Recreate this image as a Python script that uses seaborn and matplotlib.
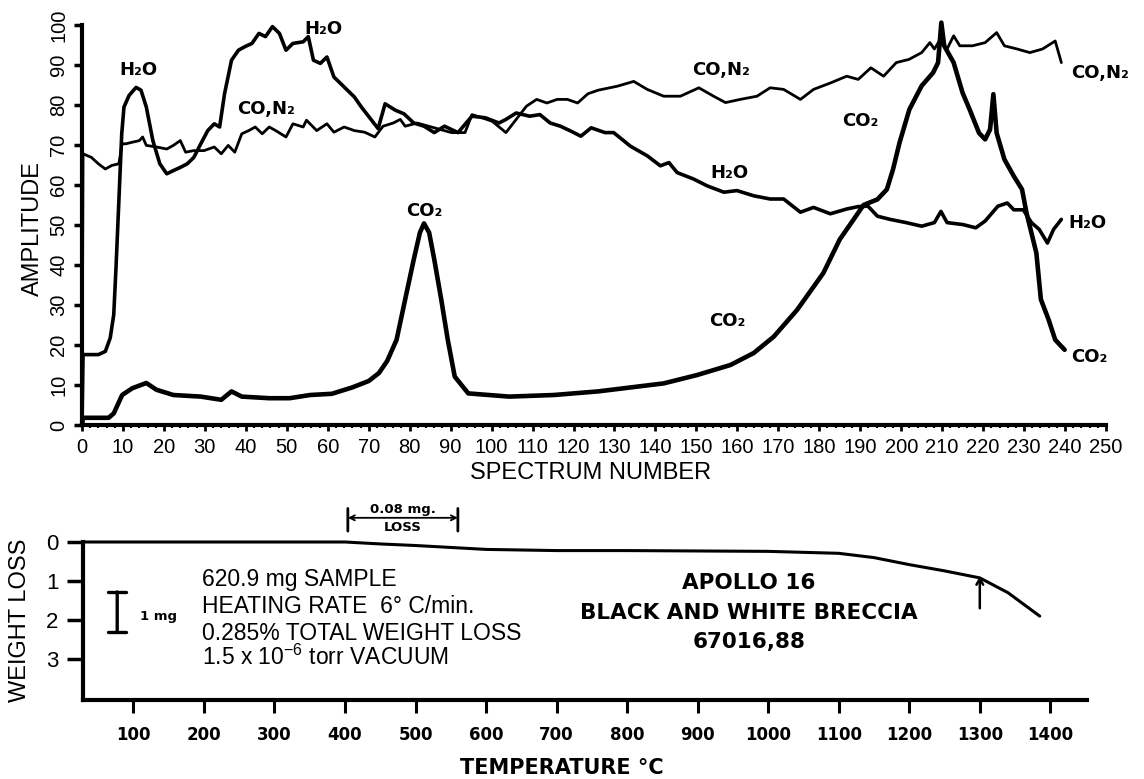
import numpy as np
import pandas as pd
import seaborn as sns
import matplotlib
matplotlib.use("Agg")
import matplotlib.pyplot as plt
from matplotlib.ticker import MultipleLocator

# ---------------- data ----------------
co2_x = [0, 0.25, 6.5, 7.75, 9.8, 12.3, 15.7, 18.2, 22.3, 29, 34, 36.5, 39, 45.7, 50.7, 55.7,
         61, 66, 70, 72.5, 74.5, 76.8, 78.9, 81, 82.5, 83.5, 84.75, 86, 87.7, 89.3, 91, 94.3,
         104.3, 115.2, 126, 142, 150.2, 158.3, 164, 168.9, 174.6, 181, 185, 188.4, 190.8,
         194.2, 196.5, 198, 199.6, 202, 205, 207.8, 209, 209.8, 210.5, 212.8, 215, 216.7,
         219, 220.5, 221.7, 222.5, 223.3, 225.2, 227.5, 229.5, 230.6, 231.8, 233, 234.1,
         236, 237.6, 239.9]
co2_y = [0, 1.8, 1.8, 2.9, 7.5, 9.2, 10.5, 8.8, 7.5, 7.1, 6.3, 8.4, 7.1, 6.7, 6.7, 7.5,
         7.8, 9.4, 11, 13, 16, 21.3, 31.4, 41.4, 48.1, 50.4, 48.1, 41.4, 31.4, 21.3, 12.1, 7.9,
         7.1, 7.5, 8.4, 10.4, 12.5, 15, 18, 22.1, 28.8, 38, 46.4, 51.4, 55,
         56.4, 58.9, 63.9, 70.6, 78.9, 84.8, 88.1, 90.6, 100.6, 94.8, 90.6, 83, 78.9,
         73, 71.4, 73.9, 82.7, 73, 66.4, 62.2, 58.9, 53, 48, 43, 31.4,
         26.3, 21.3, 18.8]

h2o_x = [0, 0.25, 4, 5.7, 6.9, 7.75, 8.3, 9, 9.7, 10.25, 11.5, 13.2, 14.4, 15.7, 17.3, 19,
         20.7, 22.3, 24, 25.7, 27.3, 29, 30.7, 32.3, 33.6, 34.8, 36.5, 38.2, 39.8, 41.5, 43.2,
         44.8, 46.5, 48.2, 49.8, 51.5, 54, 55.25, 56.5, 58.2, 59.8, 61.5, 64, 66.5, 68.2, 70.7,
         72.3, 74, 76.5, 78.6, 81, 83.5, 86, 88.5, 91.8, 95.2, 98.5, 101.8, 103.5, 106, 109.3,
         111.8, 114.3, 116.8, 119.3, 121.8, 124.3, 127.7, 129.8, 133.9, 138, 141.2, 143.3,
         145.3, 149.3, 152.6, 156.7, 159.9, 164, 168, 171.3, 175.4, 178.6, 182.7, 186.7,
         189.5, 191.9, 194.2, 197.3, 201.2, 205, 208.1, 209.7, 211.2, 215.1, 218.2, 220.5,
         223.6, 225.9, 227.5, 229.8, 231.8, 233.7, 235.7, 237.2, 239.1]
h2o_y = [0, 17.6, 17.6, 18.4, 21.8, 27.6, 39.3, 56, 72.8, 79.5, 82.4, 84.4, 83.7, 79.5, 71.1, 65.3,
         62.8, 63.6, 64.4, 65.3, 66.9, 70.3, 73.6, 75.3, 74.5, 82.8, 91.2, 93.7, 94.6, 95.4, 97.9,
         97.1, 99.6, 97.9, 93.7, 95.4, 95.8, 97.1, 91.2, 90.4, 92, 87, 84.5, 82, 79.5, 76.2,
         74.1, 80.3, 78.7, 77.8, 75.5, 74.7, 73.1, 74.7, 73.1, 77.2, 76.8, 75.5, 76.4, 78, 77.2,
         77.6, 75.5, 74.7, 73.5, 72.2, 74.3, 73.1, 73.1, 69.7, 67.3, 64.8, 65.6,
         63.1, 61.5, 59.8, 58.2, 58.6, 57.3, 56.5, 56.5, 53.2, 54.4, 52.8, 54,
         54.6, 54.7, 52.2, 51.4, 50.6, 49.7, 50.6, 53.4, 50.6, 50.1, 49.3, 51,
         54.7, 55.5, 53.8, 53.8, 50.6, 48.9, 45.5, 48.9, 51.4]

con2_x = [0, 0.25, 2.3, 4, 5.7, 7.3, 9, 9.8, 10.7, 12.3, 14, 14.8, 15.7, 18.2, 20.7, 22.3, 24,
          25.3, 27.3, 29.8, 32.3, 34, 35.7, 37.3, 39, 40.7, 42.3, 44, 45.7, 47.3, 49.8, 51.5, 54,
          54.8, 57.3, 59.8, 61.5, 64, 66.5, 69, 71.5, 73.5, 76, 77.7, 78.9, 81.8, 86, 90.2, 93.5,
          95.2, 97.7, 100.2, 103.5, 106, 108.5, 111, 113.5, 116, 118.5, 121, 123.5, 126, 130.7,
          134.7, 138, 142, 146.1, 150.6, 154.2, 157.1, 160.7, 164.8, 168, 171.3, 175.4, 178.6,
          182.7, 186.7, 189.5, 192.6, 195.7, 198.8, 201.9, 205, 207, 208.1, 209.3, 211.2, 212.8,
          214.3, 217.4, 220.5, 223.3, 225.2, 228.3, 231.4, 234.5, 237.6, 239.1]
con2_y = [0, 67.8, 66.9, 65.3, 64, 64.9, 65.3, 70.3, 70.3, 70.7, 71.1, 72, 69.9, 69.5, 69, 69.9, 71.1,
          68.2, 68.6, 68.6, 69.5, 67.8, 69.9, 68.2, 72.8, 73.6, 74.5, 72.8, 74.5, 73.6, 72, 75.3, 74.5,
          76.2, 73.6, 75.3, 73.2, 74.5, 73.6, 73.2, 72, 74.7, 75.5, 76.4, 74.7, 75.5, 74.3, 73.1, 73.1,
          77.6, 76.8, 75.9, 73.1, 76.4, 79.7, 81.4, 80.5, 81.4, 81.4, 80.5, 82.8, 83.7, 84.7,
          85.9, 83.9, 82.2, 82.2, 84.3, 82.2, 80.6, 81.4, 82.2, 84.3, 83.9, 81.4, 83.9,
          85.5, 87.2, 86.4, 89.3, 87.2, 90.6, 91.4, 93.1, 95.6, 94, 96, 94, 97.3,
          94.8, 94.8, 95.6, 98.1, 94.8, 94, 93.1, 94, 96, 90.6]

temp_c = [28.5, 100, 200, 300, 400, 450, 500, 560, 600, 700, 800, 900, 1000, 1100, 1150,
          1200, 1250, 1300, 1340, 1385]
weight_loss = [0, 0, 0, 0, 0, 0.05, 0.09, 0.15, 0.19, 0.22, 0.22, 0.23, 0.24, 0.29, 0.4,
               0.58, 0.74, 0.92, 1.3, 1.9]

spec_ticks = list(range(0, 251, 10))
amp_ticks = list(range(0, 101, 10))
temp_ticks = list(range(100, 1401, 100))
wl_ticks = [0, 1, 2, 3]

info_lines = ["620.9 mg SAMPLE", "HEATING RATE  6\u00b0 C/min.",
              "0.285% TOTAL WEIGHT LOSS", r"1.5 x 10$^{-6}$ torr VACUUM"]
title_lines = ["APOLLO 16", "BLACK AND WHITE BRECCIA", "67016,88"]

# ---------------- style ----------------
sns.set_theme(style="white")
plt.rcParams["font.family"] = ["Liberation Sans", "DejaVu Sans"]
plt.rcParams["mathtext.fontset"] = "custom"
plt.rcParams["mathtext.rm"] = "Liberation Sans"
plt.rcParams["mathtext.it"] = "Liberation Sans:italic"
plt.rcParams["mathtext.bf"] = "Liberation Sans:bold"
for k in ["text.color", "axes.labelcolor", "xtick.color", "ytick.color", "axes.edgecolor"]:
    plt.rcParams[k] = "black"

NARROW = ["Liberation Sans Narrow", "Liberation Sans"]
BOLD = ["DejaVu Sans"]

W, H = 1144, 779
fig = plt.figure(figsize=(W / 100, H / 100), dpi=100)
ax1 = fig.add_axes([82 / W, 1 - 425 / H, (1106 - 82) / W, 400 / H])
ax2 = fig.add_axes([83 / W, 1 - 700 / H, (1087 - 83) / W, 158 / H])

# ---------------- top panel ----------------
sns.lineplot(x=con2_x, y=con2_y, ax=ax1, color="black", lw=2.0, estimator=None, sort=False)
sns.lineplot(x=h2o_x, y=h2o_y, ax=ax1, color="black", lw=2.6, estimator=None, sort=False)
sns.lineplot(x=co2_x, y=co2_y, ax=ax1, color="black", lw=3.3, estimator=None, sort=False)
for ln in ax1.lines:
    ln.set_clip_on(False)
    ln.set_solid_joinstyle("round")

ax1.set_xlim(0, 250)
ax1.set_ylim(0, 100)
for s in ["top", "right"]:
    ax1.spines[s].set_visible(False)
for s in ["left", "bottom"]:
    ax1.spines[s].set_linewidth(3)
ax1.set_xticks(spec_ticks, labels=[str(t) for t in spec_ticks], fontfamily=NARROW, fontsize=14.5)
ax1.set_yticks(amp_ticks, labels=[str(t) for t in amp_ticks], fontfamily=NARROW, fontsize=14.5)
ax1.xaxis.set_minor_locator(MultipleLocator(2))
ax1.tick_params(axis="x", which="major", bottom=True, direction="out", length=4.5, width=2, pad=5)
ax1.tick_params(axis="x", which="minor", bottom=True, direction="out", length=2.5, width=1.5)
ax1.tick_params(axis="y", which="major", left=True, direction="out", length=6, width=2.5, pad=4,
                labelrotation=90)
for tk in ax1.yaxis.get_major_ticks():
    tk.label1.set_rotation(90)
    tk.label1.set_verticalalignment("center")
    tk.label1.set_horizontalalignment("right")
ax1.set_xlabel("")
ax1.set_ylabel("")

fig.text(591 / W, 1 - 473 / H, "SPECTRUM NUMBER", ha="center", va="center", fontsize=17)
fig.text(33 / W, 1 - 228 / H, "AMPLITUDE", ha="center", va="center", fontsize=17, rotation=90)

lab_kw = dict(fontfamily=BOLD, fontweight="bold", fontsize=13, ha="center", va="center",
              clip_on=False)
ax1.text(13.8, 88.8, "H\u2082O", **lab_kw)
ax1.text(59, 99, "H\u2082O", **lab_kw)
ax1.text(45, 79, "CO,N\u2082", **lab_kw)
ax1.text(83.5, 53.5, "CO\u2082", **lab_kw)
ax1.text(156, 88.8, "CO,N\u2082", **lab_kw)
ax1.text(158, 63, "H\u2082O", **lab_kw)
ax1.text(157.5, 26, "CO\u2082", **lab_kw)
ax1.text(190, 76, "CO\u2082", **lab_kw)
ax1.text(248.5, 88, "CO,N\u2082", **lab_kw)
ax1.text(245.5, 50.5, "H\u2082O", **lab_kw)
ax1.text(246, 17, "CO\u2082", **lab_kw)

# ---------------- bottom panel ----------------
sns.lineplot(x=temp_c, y=weight_loss, ax=ax2, color="black", lw=2.2, estimator=None, sort=False)
for ln in ax2.lines:
    ln.set_clip_on(False)
    ln.set_solid_joinstyle("round")

ax2.set_xlim(28.5, 1452)
ax2.set_ylim(4.05, 0)
for s in ["top", "right"]:
    ax2.spines[s].set_visible(False)
for s in ["left", "bottom"]:
    ax2.spines[s].set_linewidth(3)
ax2.set_xticks(temp_ticks, labels=[str(t) for t in temp_ticks], fontfamily=BOLD,
               fontweight="bold", fontsize=12)
ax2.set_yticks(wl_ticks, labels=[str(t) for t in wl_ticks], fontfamily=NARROW, fontsize=16)
ax2.tick_params(axis="x", which="major", bottom=True, direction="out", length=9.5, width=2.2, pad=9)
ax2.tick_params(axis="y", which="major", left=True, direction="out", length=11.5, width=2.5, pad=6)
ax2.set_xlabel("")
ax2.set_ylabel("")

fig.text(562 / W, 1 - 768 / H, "TEMPERATURE \u00b0C", ha="center", va="center",
         fontfamily=BOLD, fontweight="bold", fontsize=15)
fig.text(20 / W, 1 - 620 / H, "WEIGHT LOSS", ha="center", va="center", fontsize=17, rotation=90)

# info text block
for i, line in enumerate(info_lines):
    ax2.text(197, [1.13, 1.82, 2.51, 3.15][i], line, ha="left", va="baseline", fontsize=16.5)

# sample title
for i, line in enumerate(title_lines):
    ax2.text(973, [1.05, 1.82, 2.56][i], line, ha="center", va="center",
             fontfamily=BOLD, fontweight="bold", fontsize=15.5)

# 1 mg scale bar
ax2.annotate("", xy=(77, 2.3), xytext=(77, 1.28),
             arrowprops=dict(arrowstyle="|-|, widthA=0.55, widthB=0.55", lw=2.4, color="black",
                             shrinkA=0, shrinkB=0))
ax2.text(135, 1.92, "1 mg", ha="center", va="center", fontfamily=BOLD, fontweight="bold",
         fontsize=9.5)

# 0.08 mg loss bracket
ax2.annotate("", xy=(560, -0.62), xytext=(404, -0.62), annotation_clip=False,
             arrowprops=dict(arrowstyle="<->, head_length=0.3, head_width=0.15", lw=1.3,
                             color="black", shrinkA=0, shrinkB=0))
for bx in (404, 560):
    ax2.annotate("", xy=(bx, -0.28), xytext=(bx, -0.86), annotation_clip=False,
                 arrowprops=dict(arrowstyle="-", lw=2.0, color="black", shrinkA=0, shrinkB=0))
ax2.text(482, -0.66, "0.08 mg.", ha="center", va="bottom", fontfamily=BOLD, fontweight="bold",
         fontsize=9.5, clip_on=False)
ax2.text(482, -0.55, "LOSS", ha="center", va="top", fontfamily=BOLD, fontweight="bold",
         fontsize=9.5, clip_on=False)

# arrow at 1300 C
ax2.annotate("", xy=(1300, 0.88), xytext=(1300, 1.7),
             arrowprops=dict(arrowstyle="->, head_length=0.35, head_width=0.2", lw=1.8,
                             color="black", shrinkA=0, shrinkB=0))

fig.savefig("out.png", dpi=100, facecolor="white")
